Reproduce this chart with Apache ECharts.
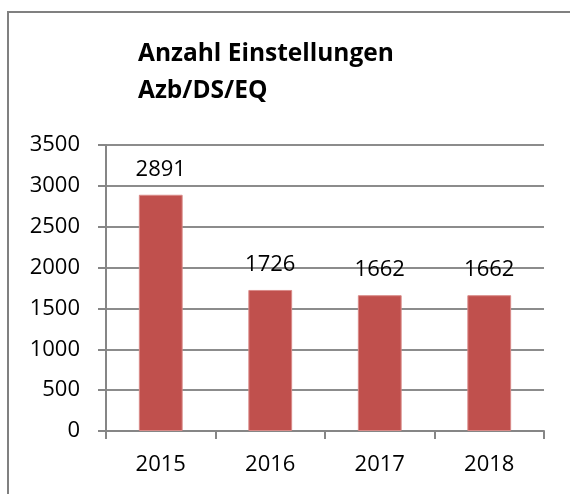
<!DOCTYPE html>
<html><head><meta charset="utf-8">
<script src="https://cdn.jsdelivr.net/npm/echarts@6/dist/echarts.min.js"></script>
<style>html,body{margin:0;padding:0;background:#fff}#c{width:570px;height:494px}</style>
</head><body><div id="c"></div>
<script>
const categories = ['2015', '2016', '2017', '2018'];
const values = [2891, 1726, 1662, 1662];
const yTicks = [0, 500, 1000, 1500, 2000, 2500, 3000, 3500];
const titleLines = ['Anzahl Einstellungen', 'Azb/DS/EQ'];

const chart = echarts.init(document.getElementById('c'), null, {renderer: 'canvas'});
const font = '"Open Sans", sans-serif';
chart.setOption({
  animation: false,
  backgroundColor: '#fff',
  graphic: [{
    type: 'rect', z: 100,
    shape: {x: 8, y: 12, width: 700, height: 700},
    style: {fill: 'none', stroke: '#808080', lineWidth: 2}
  }],
  title: {
    text: titleLines.join('\n'),
    left: 133, top: 31,
    textStyle: {fontFamily: font, fontWeight: 'bold', fontSize: 24.5, lineHeight: 37, color: '#000'}
  },
  grid: {left: 106, right: 26, top: 145, bottom: 63, containLabel: false},
  xAxis: {
    type: 'category', data: categories,
    axisLine: {lineStyle: {color: '#868686', width: 2}},
    axisTick: {show: true, length: 8, lineStyle: {color: '#868686', width: 2}},
    axisLabel: {fontFamily: font, fontSize: 22, color: '#000', margin: 23}
  },
  yAxis: {
    type: 'value', min: yTicks[0], max: yTicks[yTicks.length - 1], interval: 500,
    axisLine: {show: true, lineStyle: {color: '#868686', width: 2}},
    axisTick: {show: true, length: 8, lineStyle: {color: '#868686', width: 2}},
    splitLine: {lineStyle: {color: '#8c8c8c', width: 2}},
    axisLabel: {fontFamily: font, fontSize: 22, color: '#000', margin: 26, formatter: v => String(v)}
  },
  series: [{
    type: 'bar', data: values, barWidth: '40%',
    itemStyle: {color: '#C0504D', borderColor: '#D98A88', borderWidth: 1},
    label: {show: true, position: 'top', distance: 14, fontFamily: font, fontSize: 22, color: '#000'}
  }]
});
</script></body></html>
